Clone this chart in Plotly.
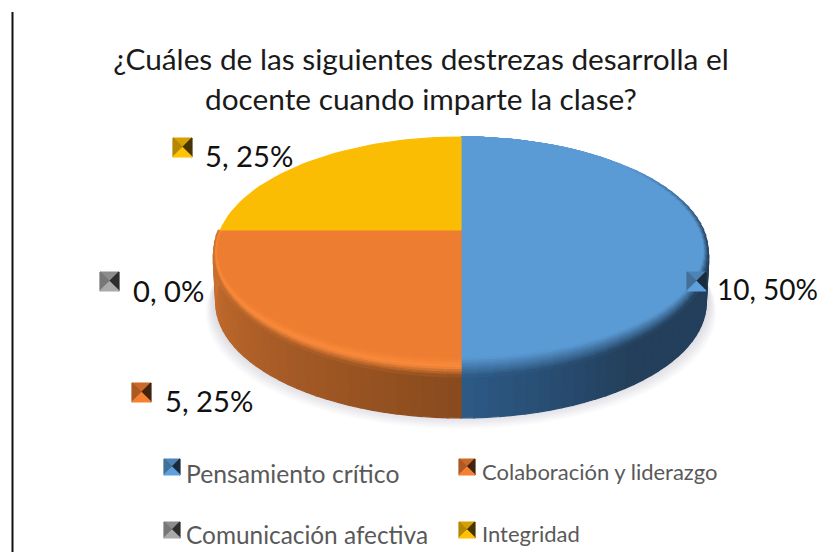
import math
import plotly.graph_objects as go

# ---- data ----
categories = ["Pensamiento crítico", "Colaboración y liderazgo", "Comunicación afectiva", "Integridad"]
values = [10, 5, 0, 5]
title_lines = ["¿Cuáles de las siguientes destrezas desarrolla el", "docente cuando imparte la clase?"]

# ---- styles ----
face_colors = ["#5b9bd5", "#ed7d31", "#a5a5a5", "#fbbc04"]
FONT = "Lato"

W, H = 819, 552
CX, CY, A, B, K = 461.0, 230.0, 111.1, 243.0, 0.195
DEPTH = 50.0
INSETS = [0.98, 0.985]


def rgb(c):
    return tuple(int(c[i:i + 2], 16) for i in (1, 3, 5))


def mix(c1, c2, p):
    a, b = rgb(c1), rgb(c2)
    return "#%02x%02x%02x" % tuple(round(a[i] + (b[i] - a[i]) * p) for i in range(3))


def dim(c, f):
    return "#%02x%02x%02x" % tuple(min(255, round(v * f)) for v in rgb(c))


def proj(t, s=1.0, d=0.0):
    r = math.radians(t)
    u, v = math.sin(r), math.cos(r)
    w = 1 + K * v
    return CX + B * s * u / w, CY - A * v / w + d


fig = go.Figure()


def poly(pts, color):
    fig.add_trace(go.Scatter(
        x=[p[0] for p in pts] + [pts[0][0]], y=[p[1] for p in pts] + [pts[0][1]],
        mode="lines", fill="toself", fillcolor=color,
        line=dict(color=color, width=1.2), hoverinfo="skip", showlegend=False))


def arange(t0, t1, step=2.5):
    n = max(1, round((t1 - t0) / step))
    return [t0 + (t1 - t0) * i / n for i in range(n + 1)]


total = sum(values)
starts, acc = [], 0.0
for v in values:
    starts.append(acc)
    acc += v / total * 360
spans = [(starts[i], starts[i] + values[i] / total * 360) for i in range(len(values))]


def wedge(i, s=1.0, d=0.0):
    t0, t1 = spans[i]
    return [(CX, CY + d)] + [proj(t, s, d) for t in arange(t0, t1)]


# shadow under the disc
for i in range(7, -1, -1):
    col = mix("#dedee4", "#ffffff", i / 8)
    poly([proj(t, 1 + 0.004 * i, DEPTH + 1.6 * i - 1) for t in arange(0, 360, 5)], col)


def rim_shade(i, t):
    if i == 0:  # right half, t from 90 to 180
        p = (180 - t) / 90
        return mix("#2d5a86", "#233f5b", min(1, p * 2.5))
    p = (t - 180) / 90
    return mix("#884a1e", "#cf7230", p)


# rim
for i in (0, 1):
    t0, t1 = (90, 180) if i == 0 else (180, 270)
    ts = arange(t0, t1)
    for a, b in zip(ts, ts[1:]):
        m = (a + b) / 2
        poly([proj(a, 1, 6), proj(b, 1, 6), proj(b, 0.99, DEPTH), proj(a, 0.99, DEPTH)], rim_shade(i, m))

# faces of blue and orange
poly(wedge(0, INSETS[0]), face_colors[0])
poly(wedge(1, INSETS[1]), face_colors[1])


def band_point(i, t, p):
    f = max(0.0, -math.cos(math.radians(t)))
    s = INSETS[i] + (1 - INSETS[i]) * p
    d = -10 * f * (1 - p) + 9 * f * p
    return proj(t, s, d)


levels = [0, 0.125, 0.25, 0.375, 0.5, 0.625, 0.75, 0.875, 1.0]
for i, (t0, t1) in ((0, (0, 180)), (1, (180, 270))):
    ts = arange(t0, t1, 3)
    for a, b in zip(ts, ts[1:]):
        m = (a + b) / 2
        rimc = rim_shade(i, max(m, 90))
        for p0, p1 in zip(levels, levels[1:]):
            pm = (p0 + p1) / 2
            if i == 0:
                taper = min(1.0, max(0.0, (m - 50) / 45))
                c = mix(face_colors[0], rimc, pm * taper)
            else:
                hl = "#fb8b3c"
                c = mix(face_colors[1], hl, pm / 0.5) if pm < 0.5 else mix(hl, rimc, (pm - 0.5) / 0.5)
            poly([band_point(i, a, p0), band_point(i, b, p0), band_point(i, b, p1), band_point(i, a, p1)], c)

# yellow face on top
poly(wedge(3, 0.99), face_colors[3])


# bevelled key squares
def key(x, y, size, base):
    x1, y1 = x + size, y + size
    c = (x + size / 2, y + size / 2)
    poly([(x, y), (x1, y), c], dim(base, 0.85))
    poly([(x, y), (x, y1), c], dim(base, 0.72))
    poly([(x1, y), (x1, y1), c], dim(base, 0.28))
    poly([(x, y1), (x1, y1), c], dim(base, 1.03))


label_keys = [(687, 272), (132, 383), (100, 272), (173, 138)]
label_text = [(716, 289), (164, 400), (132, 290), (204, 155)]
label_sizes = [28, 29.2, 29.2, 29.2]
legend_keys = [(164, 459), (459, 459), (164, 522), (459, 522)]
legend_text = [(185, 473), (481, 471), (185, 534), (481, 533)]
legend_sizes = [24.7, 22, 24.4, 22]

annotations = [
    dict(x=421, y=98, text=title_lines[1], font=dict(size=29.8, color="#1a1a1a", family=FONT)),
]
for i, v in enumerate(values):
    key(*label_keys[i], 19, face_colors[i])
    key(*legend_keys[i], 16, face_colors[i])
    annotations.append(dict(x=label_text[i][0], y=label_text[i][1], xanchor="left",
                            text=f"{v}, {v / total:.0%}", font=dict(size=label_sizes[i], color="#111111", family=FONT)))
    annotations.append(dict(x=legend_text[i][0], y=legend_text[i][1], xanchor="left", text=categories[i],
                            font=dict(size=legend_sizes[i], color="#595959", family=FONT)))
for a in annotations:
    a.update(xref="x", yref="y", showarrow=False, yanchor="middle", borderpad=0, align="left")
    a.setdefault("xanchor", "center")

fig.update_layout(
    width=W, height=H, margin=dict(l=0, r=0, t=0, b=0), autosize=False,
    paper_bgcolor="#ffffff", plot_bgcolor="#ffffff", showlegend=False,
    title=dict(text=title_lines[0], x=421 / W, xanchor="center", y=1 - 60 / H, yanchor="middle",
               font=dict(size=29.8, color="#1a1a1a", family=FONT)),
    xaxis=dict(range=[0, W], visible=False, fixedrange=True),
    yaxis=dict(range=[H, 0], visible=False, fixedrange=True),
    annotations=annotations,
    shapes=[dict(type="line", xref="x", yref="y", x0=12.5, x1=12.5, y0=12, y1=H,
                 line=dict(color="#111111", width=2))],
)
fig.write_html("out.html", config={"displayModeBar": False},
               post_script="document.body.style.margin='0';document.documentElement.style.overflow='hidden';")
